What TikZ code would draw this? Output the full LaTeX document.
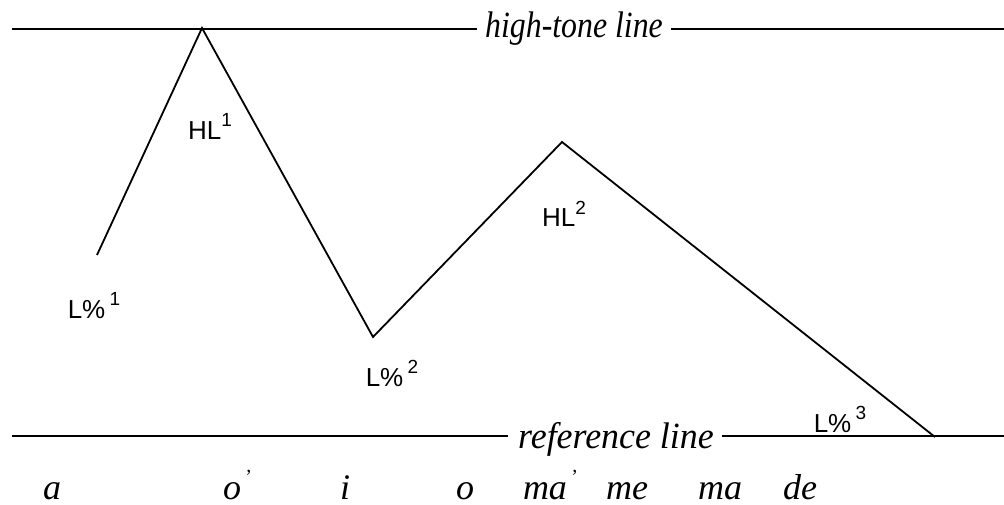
\documentclass[tikz,border=0pt]{standalone}
\usepackage{fontspec}
\setmainfont{Liberation Serif}
\newfontfamily\lblsans{Liberation Sans}
\newcommand{\tonesup}[1]{\raisebox{0.5em}{\fontsize{19}{19}\selectfont #1}}
\newcommand{\tick}{\rlap{\hspace{0.12em}\raisebox{0.42em}{\fontsize{20}{20}\selectfont\upshape\char"2019}}}
\begin{document}
\begin{tikzpicture}[x=1pt,y=-1pt,
  guide/.style={line width=2.6pt},
  contour/.style={line width=1.8pt, line join=miter},
  linelbl/.style={font=\fontsize{37}{37}\selectfont\itshape, inner sep=0pt, anchor=base},
  tonelbl/.style={font=\lblsans\fontsize{26}{26}\selectfont, inner sep=0pt, anchor=base},
  syl/.style={font=\fontsize{36}{36}\selectfont\itshape, inner sep=0pt, anchor=base}]
\useasboundingbox (0,0) rectangle (1004,505);
% guide lines
\coordinate (h0) at (12,29);
\coordinate (h1) at (1004,29);
\node[linelbl] (hl) at (574,38) {\scalebox{0.86}[1]{high-tone line}};
\draw[guide] (h0) -- ([xshift=-8pt]hl.west |- h0);
\draw[guide] ([xshift=8pt]hl.east |- h1) -- (h1);
\coordinate (r0) at (12,436);
\coordinate (r1) at (1004,436);
\node[linelbl] (rl) at (616,448) {\scalebox{0.97}[1]{reference line}};
\draw[guide] (r0) -- ([xshift=-10pt]rl.west |- r0);
\draw[guide] ([xshift=8pt]rl.east |- r1) -- (r1);
% contour
\coordinate (p1) at (97,255);
\coordinate (p2) at (202,28);
\coordinate (p3) at (373,337);
\coordinate (p4) at (562,142);
\coordinate (p5) at (935,437);
\draw[contour] (p1) -- (p2) -- (p3) -- (p4) -- (p5);
% tone labels
\node[tonelbl] (t1) at (210,140) {HL\tonesup{1}};
\node[tonelbl] (t2) at (94,318) {L\%\,\tonesup{1}};
\node[tonelbl] (t3) at (392,386) {L\%\,\tonesup{2}};
\node[tonelbl] (t4) at (564,227) {HL\tonesup{2}};
\node[tonelbl] (t5) at (840,432) {L\%\,\tonesup{3}};
% syllables
\node[syl] (s1) at (52,499) {a};
\node[syl] (s2) at (232,499) {o\tick};
\node[syl] (s3) at (345,499) {i};
\node[syl] (s4) at (465,499) {o};
\node[syl] (s5) at (545,499) {ma\tick};
\node[syl] (s6) at (627,499) {me};
\node[syl] (s7) at (720,499) {ma};
\node[syl] (s8) at (800,499) {de};
\end{tikzpicture}
\end{document}
